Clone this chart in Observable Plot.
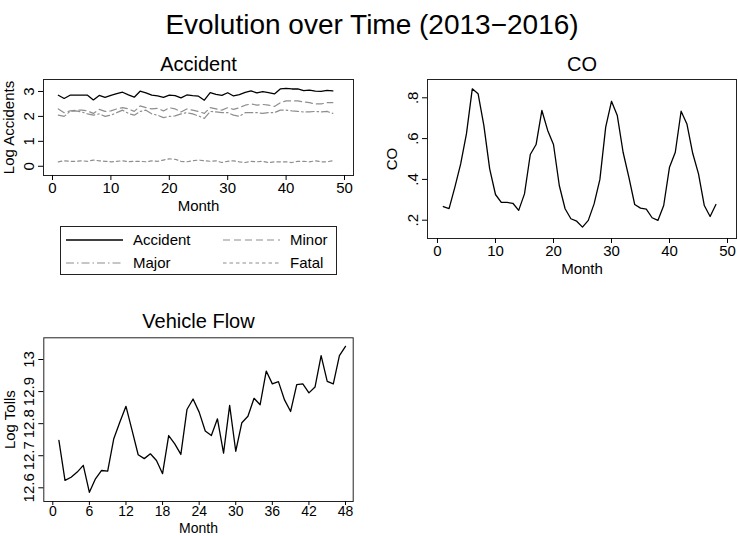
<!DOCTYPE html>
<html>
<head>
<meta charset="utf-8">
<script src="https://cdn.jsdelivr.net/npm/d3@7"></script>
<script src="https://cdn.jsdelivr.net/npm/@observablehq/plot@0.6"></script>
<style>
  html, body { margin: 0; padding: 0; background: #fff; overflow: hidden; }
  #root { position: relative; width: 738px; height: 536px; font-family: "Liberation Sans", Arial, Helvetica, sans-serif; }
  #root > svg, #root > figure { position: absolute; left: 0; top: 0; margin: 0; }
  #title { position: absolute; left: 0; width: 744px; top: 11px; text-align: center; font-size: 28px; line-height: 28px; color: #000; }
</style>
</head>
<body>
<div id="root">
  <div id="title">Evolution over Time (2013−2016)</div>
</div>
<script>
// ---------- data ----------
const months = [1,2,3,4,5,6,7,8,9,10,11,12,13,14,15,16,17,18,19,20,21,22,23,24,
                25,26,27,28,29,30,31,32,33,34,35,36,37,38,39,40,41,42,43,44,45,46,47,48];

const accident = [2.85,2.72,2.85,2.85,2.85,2.85,2.66,2.84,2.76,2.84,2.91,2.97,2.86,2.77,3.01,2.94,2.85,2.82,2.76,2.85,2.83,2.74,2.86,2.83,
                  2.81,2.65,2.95,2.88,2.84,2.95,2.82,2.87,2.96,3.02,2.94,2.99,2.95,2.90,3.10,3.12,3.10,3.10,3.03,3.05,3.01,3.00,3.04,3.02];
const minor    = [2.30,2.15,2.22,2.25,2.25,2.22,2.12,2.28,2.20,2.22,2.30,2.35,2.30,2.20,2.42,2.35,2.30,2.32,2.22,2.35,2.30,2.18,2.30,2.25,
                  2.20,2.12,2.35,2.30,2.25,2.35,2.28,2.35,2.45,2.50,2.45,2.48,2.45,2.40,2.55,2.62,2.62,2.62,2.58,2.55,2.50,2.50,2.55,2.55];
const major    = [2.05,2.00,2.20,2.22,2.18,2.10,2.05,2.10,2.00,2.05,2.15,2.25,2.12,2.05,2.20,2.25,2.10,2.05,1.95,2.00,2.02,2.10,2.15,2.10,
                  2.02,1.92,2.20,2.18,2.15,2.15,2.05,2.00,2.15,2.15,2.15,2.12,2.15,2.15,2.25,2.25,2.22,2.20,2.18,2.18,2.20,2.18,2.20,2.12];
const fatal    = [0.18,0.22,0.20,0.20,0.22,0.20,0.25,0.22,0.20,0.18,0.20,0.22,0.18,0.20,0.20,0.18,0.22,0.20,0.25,0.30,0.28,0.20,0.18,0.22,
                  0.25,0.22,0.20,0.22,0.15,0.20,0.22,0.18,0.15,0.20,0.18,0.20,0.15,0.18,0.18,0.18,0.15,0.20,0.20,0.18,0.22,0.18,0.18,0.22];

const co = [0.267,0.257,0.362,0.476,0.624,0.844,0.820,0.664,0.452,0.326,0.287,0.287,0.283,0.248,0.329,0.522,0.571,0.738,0.640,0.571,0.370,0.256,0.207,0.195,
            0.166,0.199,0.280,0.400,0.656,0.783,0.713,0.533,0.410,0.277,0.259,0.254,0.212,0.199,0.272,0.460,0.533,0.734,0.672,0.528,0.427,0.272,0.218,0.277];

const logTolls = [12.748,12.623,12.633,12.649,12.670,12.586,12.628,12.654,12.652,12.753,12.805,12.854,12.779,12.703,12.691,12.706,12.685,12.644,12.763,12.737,12.704,12.844,12.877,12.836,
                  12.777,12.763,12.815,12.708,12.857,12.714,12.803,12.823,12.879,12.859,12.964,12.924,12.931,12.874,12.838,12.922,12.924,12.896,12.914,13.012,12.932,12.924,13.012,13.041];

const accXTicks = [0,10,20,30,40,50];
const accYTicks = [0,1,2,3];
const coXTicks = [0,10,20,30,40,50];
const coYTicks = [0.2,0.4,0.6,0.8];
const coYTickLabels = [".2",".4",".6",".8"];
const vfXTicks = [0,6,12,18,24,30,36,42,48];
const vfYTicks = [12.6,12.7,12.8,12.9,13];
const vfYTickLabels = ["12.6","12.7","12.8","12.9","13"];

const seriesNames = ["Accident","Minor","Major","Fatal"];

// ---------- styles ----------
const FONT = '"Liberation Sans", Arial, Helvetica, sans-serif';
const GRAY = "#8e8e8e";
const dashes = {Accident: null, Minor: "7,4", Major: "8,3,1.5,3", Fatal: "3.5,3"};
const colors = {Accident: "#000", Minor: GRAY, Major: GRAY, Fatal: GRAY};

const W = 738, H = 536;
const root = document.getElementById("root");

function panel({frame, xDomain, yDomain, xTicks, yTicks, yTickFormat, title, titleDy,
                xLabel, xLabelDy, yLabel, yLabelDx, lines,
                xTickSize = 5, xTickPadding = 2, xFont = 15, xLabelFont = 15}) {
  const [L, T, R, B] = frame;
  return Plot.plot({
    width: W, height: H,
    marginLeft: L, marginTop: T, marginRight: W - R, marginBottom: H - B,
    style: {background: "transparent", fontFamily: FONT, fontSize: "15px", color: "#000", overflow: "visible"},
    x: {domain: xDomain},
    y: {domain: yDomain},
    marks: [
      ...lines,
      Plot.frame({stroke: "#222", strokeWidth: 1}),
      Plot.axisX({ticks: xTicks, tickSize: xTickSize, tickPadding: xTickPadding, label: null, fontSize: xFont}),
      Plot.axisY({ticks: yTicks, tickSize: 5, tickPadding: 5, tickRotate: -90, label: null, fontSize: 15,
                  tickFormat: yTickFormat}),
      Plot.text([title], {text: d => d, frameAnchor: "top", dy: titleDy, fontSize: 20,
                          textAnchor: "middle", lineAnchor: "middle"}),
      Plot.text([xLabel], {text: d => d, frameAnchor: "bottom", dy: xLabelDy, fontSize: xLabelFont,
                           textAnchor: "middle", lineAnchor: "middle"}),
      Plot.text([yLabel], {text: d => d, frameAnchor: "left", dx: yLabelDx, rotate: -90, fontSize: 15,
                           textAnchor: "middle", lineAnchor: "middle"})
    ]
  });
}

// Accident panel
const accSeries = {Accident: accident, Minor: minor, Major: major, Fatal: fatal};
const accPlot = panel({
  frame: [43, 79, 353, 175],
  xDomain: [-1.54, 51.54], yDomain: [-0.37, 3.48],
  xTicks: accXTicks, yTicks: accYTicks, yTickFormat: d => String(d),
  title: "Accident", titleDy: -15.4,
  xLabel: "Month", xLabelDy: 31,
  yLabel: "Log Accidents", yLabelDx: -34,
  lines: ["Fatal","Major","Minor","Accident"].map(name =>
    Plot.lineY(accSeries[name], {x: months, y: d => d, stroke: colors[name],
      strokeWidth: name === "Accident" ? 1.3 : 1.2, strokeDasharray: dashes[name]}))
});
root.appendChild(accPlot);

// CO panel
const coPlot = panel({
  frame: [427, 79, 736, 238],
  xDomain: [-1.72, 51.55], yDomain: [0.1103, 0.8897],
  xTicks: coXTicks, yTicks: coYTicks, yTickFormat: d => coYTickLabels[coYTicks.indexOf(d)],
  title: "CO", titleDy: -15.4,
  xLabel: "Month", xLabelDy: 31,
  yLabel: "CO", yLabelDx: -35,
  lines: [Plot.lineY(co, {x: months, y: d => d, stroke: "#000", strokeWidth: 1.3})]
});
root.appendChild(coPlot);

// Vehicle Flow panel
const vfPlot = panel({
  frame: [43.3, 337.3, 352.7, 501],
  xDomain: [-1.476, 49.26], yDomain: [12.5573, 13.0677],
  xTicks: vfXTicks, yTicks: vfYTicks, yTickFormat: d => vfYTickLabels[vfYTicks.indexOf(d)],
  title: "Vehicle Flow", titleDy: -16.4,
  xLabel: "Month", xLabelDy: 27.5,
  yLabel: "Log Tolls", yLabelDx: -34,
  xTickSize: 4, xTickPadding: 1, xFont: 14, xLabelFont: 14,
  lines: [Plot.lineY(logTolls, {x: months, y: d => d, stroke: "#000", strokeWidth: 1.3})]
});
root.appendChild(vfPlot);

// Legend for Accident panel
const legend = d3.create("svg")
  .attr("width", W).attr("height", H)
  .style("position", "absolute").style("left", "0px").style("top", "0px")
  .style("font-family", FONT).style("font-size", "15px");
legend.append("rect").attr("x", 60.5).attr("y", 226.5).attr("width", 276).attr("height", 48)
  .attr("fill", "none").attr("stroke", "#222").attr("stroke-width", 1);
const legendPos = {
  Accident: {x: 66, y: 240}, Minor: {x: 223, y: 240},
  Major: {x: 66, y: 263}, Fatal: {x: 223, y: 263}
};
for (const name of seriesNames) {
  const p = legendPos[name];
  legend.append("line").attr("x1", p.x).attr("x2", p.x + 57).attr("y1", p.y).attr("y2", p.y)
    .attr("stroke", colors[name]).attr("stroke-width", name === "Accident" ? 1.3 : 1.2)
    .attr("stroke-dasharray", dashes[name]);
  legend.append("text").attr("x", p.x + 67).attr("y", p.y).attr("dy", "0.35em")
    .attr("fill", "#000").text(name);
}
root.appendChild(legend.node());
</script>
</body>
</html>
